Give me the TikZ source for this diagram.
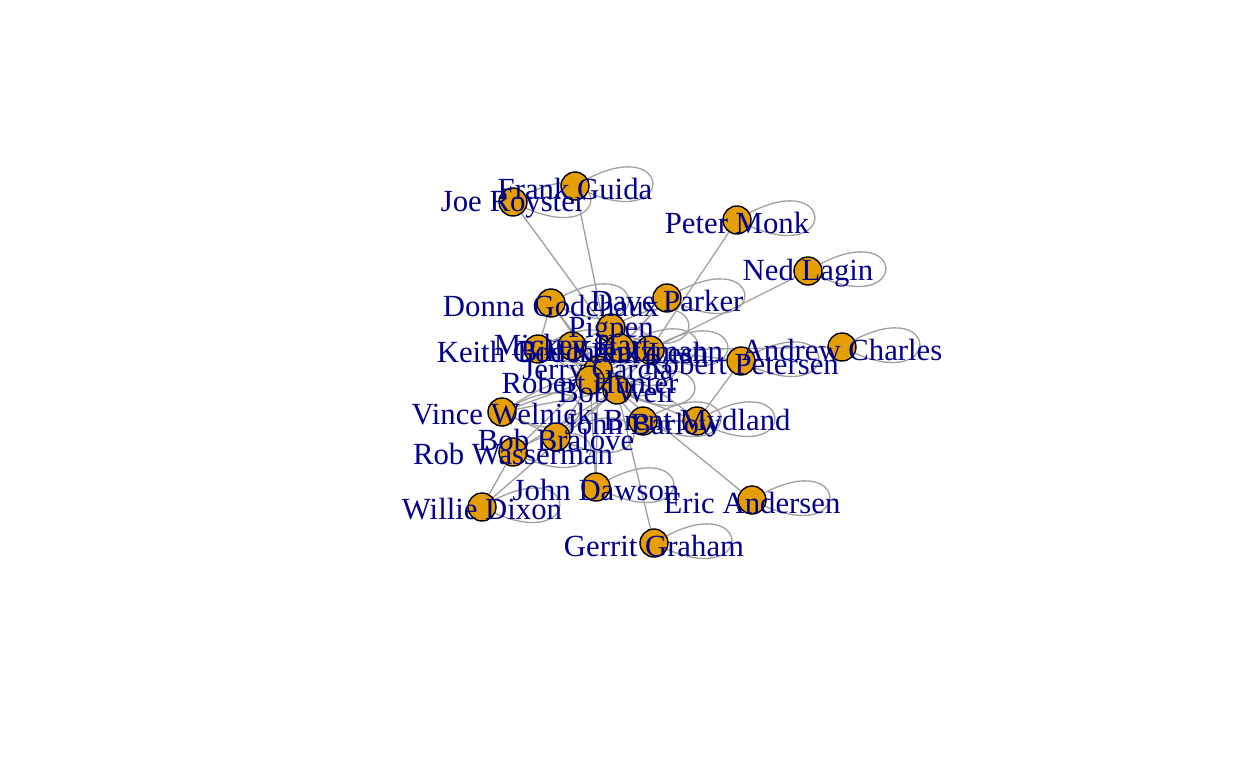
\documentclass[tikz,border=0pt]{standalone}
\usepackage{fontspec}
\setmainfont{Liberation Serif}
\usepackage{xcolor}
\definecolor{vfill}{HTML}{E69F00}
\definecolor{ecol}{HTML}{A0A0A0}
\definecolor{lcol}{HTML}{00008B}

\begin{document}
\begin{tikzpicture}[x=0.02cm,y=-0.02cm]
  \tikzstyle{link}=[ecol,line width=0.75pt]
  \tikzstyle{vtx}=[circle,draw=black,fill=vfill,line width=0.8pt,minimum size=0.56cm,inner sep=0pt]
  \tikzstyle{lbl}=[text=lcol,inner sep=0pt,yshift=-0.05cm,font=\fontsize{17.5}{20}\selectfont]
  \useasboundingbox (0,0) rectangle (1248,768);

  % vertex positions (pixels of the plot)
  \coordinate (fg) at (575,186);
  \coordinate (jr) at (513,202);
  \coordinate (pm) at (737,220);
  \coordinate (nl) at (808,271);
  \coordinate (ac) at (842,347);
  \coordinate (dg) at (551,303);
  \coordinate (dp) at (667,298);
  \coordinate (pp) at (611,328);
  \coordinate (kg) at (538,349);
  \coordinate (mh) at (572,346);
  \coordinate (bk) at (620,348);
  \coordinate (pl) at (650,350);
  \coordinate (rp) at (741,361);
  \coordinate (jg) at (598,370);
  \coordinate (rh) at (590,380);
  \coordinate (bw) at (617,390);
  \coordinate (vw) at (502,412);
  \coordinate (jb) at (643,421);
  \coordinate (bm) at (697,421);
  \coordinate (bb) at (556,437);
  \coordinate (rw) at (513,452);
  \coordinate (jd) at (596,487);
  \coordinate (wd) at (482,507);
  \coordinate (ea) at (752,500);
  \coordinate (gg) at (654,543);

  % self loops
  \foreach \v in {fg,jr,pm,nl,ac,dg,dp,pp,kg,mh,bk,pl,rp,jg,rh,bw,vw,jb,bm,bb,rw,jd,wd,ea,gg}
    \draw[link] (\v) .. controls +(32:2.4cm) and +(-28:2.4cm) .. (\v);

  % co-writing edges
  \draw[link] (jr) -- (bk);
  \draw[link] (fg) -- (bw);
  \draw[link] (pm) -- (pl);
  \draw[link] (nl) -- (pl);
  \draw[link] (ac) -- (pl);
  \draw[link] (rp) -- (pl);
  \draw[link] (rp) -- (bm);
  \draw[link] (ea) -- (bw);
  \draw[link] (gg) -- (bw);
  \draw[link] (jd) -- (jg);
  \draw[link] (jd) -- (rh);
  \draw[link] (wd) -- (bw);
  \draw[link] (wd) -- (rw);
  \draw[link] (rw) -- (bw);
  \draw[link] (rw) -- (jg);
  \draw[link] (vw) -- (bw);
  \draw[link] (vw) -- (bb);
  \draw[link] (vw) -- (rh);
  \draw[link] (vw) to[bend left=10] (jg);
  \draw[link] (bb) -- (bw);
  \draw[link] (bb) -- (jg);
  \draw[link] (dg) -- (kg);
  \draw[link] (dg) -- (jg);
  \draw[link] (dg) -- (bw);
  \draw[link] (dp) -- (jg);
  \draw[link] (dp) -- (rh);
  \draw[link] (pp) -- (jg);
  \draw[link] (pp) -- (rh);
  \draw[link] (pp) to[bend left=20] (bw);
  \draw[link] (kg) -- (jg);
  \draw[link] (kg) -- (rh);
  \draw[link] (mh) -- (jg);
  \draw[link] (mh) -- (bk);
  \draw[link] (mh) to[bend right=25] (rh);
  \draw[link] (bk) -- (jg);
  \draw[link] (bk) -- (pl);
  \draw[link] (pl) -- (jg);
  \draw[link] (pl) -- (bw);
  \draw[link] (pl) to[bend left=20] (rh);
  \draw[link] (jg) to[bend left=30] (rh);
  \draw[link] (jg) -- (bw);
  \draw[link] (rh) to[bend right=30] (bw);
  \draw[link] (jb) to[bend left=20] (bw);
  \draw[link] (jb) -- (bm);
  \draw[link] (bm) -- (bw);
  \draw[link] (bm) to[bend right=15] (jg);

  % vertices
  \foreach \v in {fg,jr,pm,nl,ac,dg,dp,pp,kg,mh,bk,pl,rp,jg,rh,bw,vw,jb,bm,bb,rw,jd,wd,ea,gg}
    \node[vtx] (\v-v) at (\v) {};

  % names
  \node[lbl] (fg-l) at (fg) {Frank Guida};
  \node[lbl] (jr-l) at (jr) {Joe Royster};
  \node[lbl] (pm-l) at (pm) {Peter Monk};
  \node[lbl] (nl-l) at (nl) {Ned Lagin};
  \node[lbl] (ac-l) at (ac) {Andrew Charles};
  \node[lbl] (dg-l) at (dg) {Donna Godchaux};
  \node[lbl] (dp-l) at (dp) {Dave Parker};
  \node[lbl] (pp-l) at (pp) {Pigpen};
  \node[lbl] (kg-l) at (kg) {Keith Godchaux};
  \node[lbl] (mh-l) at (mh) {Mickey Hart};
  \node[lbl] (bk-l) at (bk) {Bill Kreutzmann};
  \node[lbl] (pl-l) at (pl) {Phil Lesh};
  \node[lbl] (rp-l) at (rp) {Robert Petersen};
  \node[lbl] (jg-l) at (jg) {Jerry Garcia};
  \node[lbl] (rh-l) at (rh) {Robert Hunter};
  \node[lbl] (bw-l) at (bw) {Bob Weir};
  \node[lbl] (vw-l) at (vw) {Vince Welnick};
  \node[lbl] (jb-l) at (jb) {John Barlow};
  \node[lbl] (bm-l) at (bm) {Brent Mydland};
  \node[lbl] (bb-l) at (bb) {Bob Bralove};
  \node[lbl] (rw-l) at (rw) {Rob Wasserman};
  \node[lbl] (jd-l) at (jd) {John Dawson};
  \node[lbl] (wd-l) at (wd) {Willie Dixon};
  \node[lbl] (ea-l) at (ea) {Eric Andersen};
  \node[lbl] (gg-l) at (gg) {Gerrit Graham};
\end{tikzpicture}
\end{document}
